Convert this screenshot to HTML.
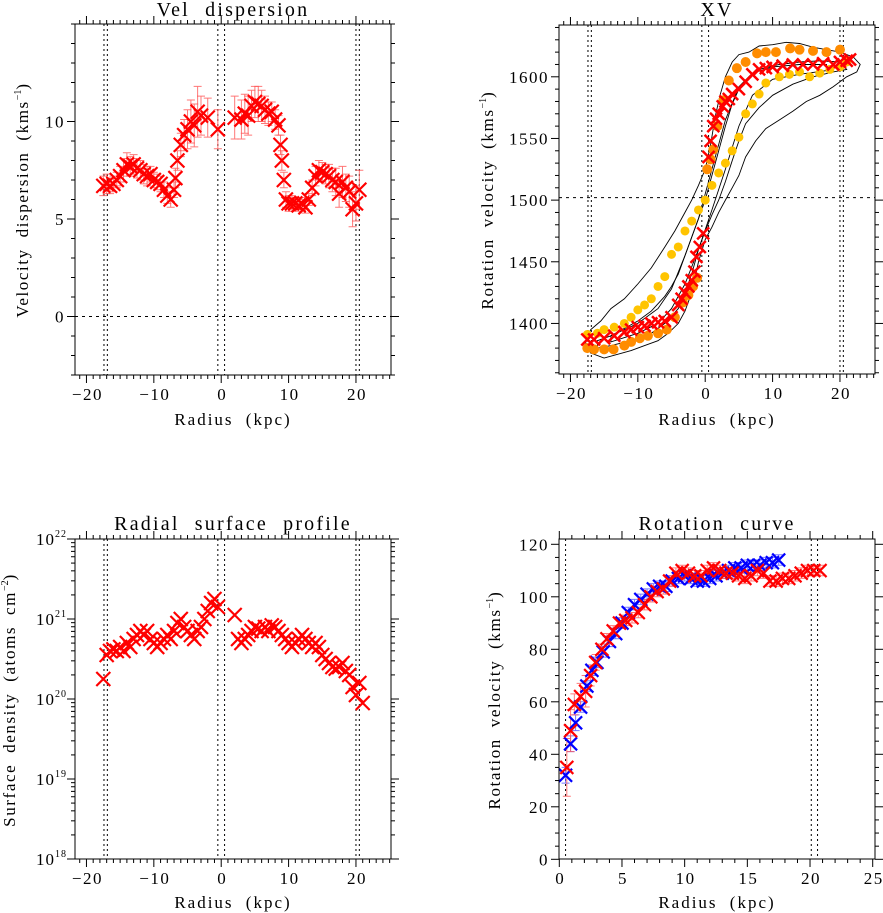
<!DOCTYPE html>
<html><head><meta charset="utf-8"><style>
body{margin:0;background:#fff;}
svg{display:block;font-family:"Liberation Serif",serif;}
</style></head><body>
<svg id="fig" width="883" height="913" viewBox="0 0 883 913" xmlns="http://www.w3.org/2000/svg"></svg>
<script>
// ---- Panel 1: velocity dispersion ----
const dispR = [-17.5,-17,-16.5,-16,-15.5,-15,-14.5,-14,-13.5,-13,-12.5,-12,-11.5,-11,-10.5,-10,-9.5,-9,-8.5,-8,-7.5,-7,-6.8,-6.5,-6,-5.5,-5,-4.5,-4,-3.5,-3,-2,-0.5,
  2,3,3.5,4,4.5,5,5.5,6,6.5,7,7.5,8,8.5,8.8,9,9.3,9.6,10,10.5,11,11.5,12,12.5,13,13.5,14,14.5,15,15.5,16,16.5,17,17.5,18,18.5,19,19.5,20,20.5];
const dispV = [6.7,6.8,6.7,6.8,7.0,7.2,7.5,7.8,7.7,7.8,7.6,7.5,7.3,7.2,7.3,7.0,6.9,6.8,6.5,6.2,6.0,6.5,7.1,8.0,8.8,9.3,9.6,10.0,9.8,10.5,10.3,10.2,9.6,
  10.2,10.1,10.4,10.3,10.8,11.0,10.9,10.8,10.6,10.4,10.5,10.1,9.8,8.8,8.0,7.0,6.0,5.8,5.8,5.8,5.7,5.8,5.6,6.0,6.6,7.2,7.5,7.4,7.3,7.2,7.0,6.9,6.3,6.9,6.6,6.4,5.5,5.8,6.5];
const dispErr = [0.5,0.5,0.4,0.4,0.4,0.5,0.6,0.6,0.5,0.5,0.5,0.5,0.5,0.5,0.4,0.4,0.4,0.4,0.4,0.4,0.4,0.4,0.5,0.5,0.6,0.8,1.0,1.1,1.1,1.3,1.0,1.0,1.0,
  1.1,1.0,1.0,1.0,0.8,0.8,0.9,0.8,0.7,0.6,0.5,0.5,0.5,0.5,0.5,0.4,0.4,0.4,0.4,0.3,0.3,0.3,0.3,0.3,0.4,0.5,0.5,0.5,0.5,0.6,0.6,0.7,0.7,0.8,0.7,0.8,0.9,0.9,1.0];
const dispYTicks = [0,5,10];
const dispXTicks = [-20,-10,0,10,20];

// ---- Panel 2: XV diagram ----
const xvRedR = [-17.5,-16.5,-15,-13.5,-12,-11,-10,-9,-8,-7,-6,-5,-4,-3.5,-3,-2.5,-2,-1.6,-1.3,-0.8,-0.3,0.5,0.8,1.2,1.6,2,2.6,3,3.5,4,5,6,7,8,9,10,11.5,13,14.5,16,17.5,19,20,21,21.5];
const xvRedV = [1387,1387,1388,1390,1393,1395,1397,1398,1400,1401,1402,1405,1415,1420,1425,1430,1435,1442,1454,1462,1473,1535,1548,1560,1566,1570,1576,1580,1582,1586,1590,1596,1602,1606,1607,1608,1609,1610,1610,1610,1611,1610,1612,1613,1614];
const xvOrangeR = [-17.5,-16.5,-15,-13.6,-12,-11,-9.7,-8.5,-7,-5.7,-4.5,-3.3,-2.5,-1.8,-1.2,0.3,0.8,1.2,1.8,2.7,3.5,4.7,6,7.7,9,10.5,12.6,14,16,18,20];
const xvOrangeV = [1380,1379,1379,1379,1382,1385,1388,1390,1392,1395,1405,1417,1423,1430,1437,1525,1533,1541,1560,1581,1597,1607,1612,1619,1620,1620,1623,1622,1621,1620,1622];
const xvYellowR = [-17.5,-16,-15,-13.5,-12,-11,-10,-9,-8,-7,-6,-5,-4,-3,-2,-1,0,1,2,3,4,5,6,7,8,9,11,12.5,14,15.5,17,18.5,20,21];
const xvYellowV = [1391,1392,1395,1397,1400,1405,1411,1415,1420,1430,1438,1456,1462,1475,1483,1492,1500,1512,1522,1530,1540,1551,1570,1578,1586,1595,1600,1602,1604,1600,1603,1606,1608,1612];
const contourOuterR = [-17.8,-17,-15.5,-14,-12,-10,-8,-6,-4.5,-3,-2,-1,0,0.8,1.5,2.2,3,4,5,6.5,8,10,12,14,16,18,20,22,23,22.5,21,19,17,15,13,11,9,7.5,6,5,4,3,2,1,0,-1,-2,-3,-4,-5.5,-7,-9,-11,-13,-15,-17];
const contourOuterV = [1385,1395,1402,1412,1420,1432,1445,1462,1475,1490,1500,1512,1525,1545,1568,1585,1600,1612,1618,1620,1625,1626,1628,1627,1624,1622,1620,1616,1610,1604,1600,1592,1585,1580,1572,1565,1558,1548,1535,1520,1510,1500,1490,1478,1468,1450,1425,1410,1400,1392,1386,1382,1378,1375,1372,1376];
const contourInnerR = [-16,-14,-12,-10,-8,-6,-5,-4,-3,-2,-1,0,1,2,3,4,5,6.5,8,11,14,17,20,21,19,16,13,10,8,6,5,4,3,2,1,0,-1,-2,-3,-4,-6,-8,-11,-14,-16];
const contourInnerV = [1386,1390,1396,1402,1410,1422,1430,1440,1455,1470,1485,1500,1520,1540,1560,1578,1590,1600,1606,1610,1612,1613,1612,1606,1604,1600,1594,1585,1575,1562,1548,1532,1515,1500,1488,1475,1460,1440,1425,1412,1400,1392,1386,1382,1380];
const contourCoreR = [-14,-10,-7,-5,-3,-1,1,3,5,7,10,14,18,18,14,10,7,5,3,1,-1,-3,-5,-7,-10,-14];
const contourCoreV = [1390,1400,1412,1428,1455,1485,1525,1565,1592,1603,1608,1610,1610,1605,1602,1598,1585,1560,1525,1492,1460,1432,1412,1400,1392,1385];
const xvYTicks = [1400,1450,1500,1550,1600];
const xvXTicks = [-20,-10,0,10,20];

// ---- Panel 3: surface density (log10) ----
const surfR = [-17.5,-17,-16.5,-16,-15.5,-15,-14.5,-14,-13.5,-13,-12.5,-12,-11.5,-11,-10.5,-10,-9.5,-9,-8.5,-8,-7.5,-7,-6.5,-6,-5.5,-5,-4.5,-4,-3.5,-3,-2.5,-2,-1.5,-1,-0.5,
  2,2.5,3,3.5,4,4.5,5,5.5,6,6.5,7,7.5,8,8.5,9,9.5,10,10.5,11,11.5,12,12.5,13,13.5,14,14.5,15,15.5,16,16.5,17,17.5,18,18.5,19,19.5,20,20.5,21];
const surfLog = [20.25,20.55,20.6,20.62,20.6,20.65,20.6,20.7,20.65,20.75,20.8,20.85,20.8,20.85,20.75,20.7,20.65,20.7,20.75,20.8,20.75,20.85,20.95,21.0,20.9,20.85,20.8,20.75,20.85,20.9,21.0,21.1,21.2,21.25,21.15,
  21.05,20.75,20.7,20.75,20.8,20.85,20.9,20.88,20.85,20.9,20.85,20.92,20.9,20.85,20.8,20.75,20.7,20.65,20.7,20.75,20.8,20.75,20.7,20.65,20.7,20.65,20.55,20.5,20.45,20.4,20.38,20.4,20.45,20.35,20.3,20.15,20.05,20.2,19.95];
const surfYTicks = [18,19,20,21,22];
const surfXTicks = [-20,-10,0,10,20];

// ---- Panel 4: rotation curve ----
const rcBlueR = [0.5,0.9,1.3,1.7,2.2,2.6,3,3.5,4,4.5,5,5.5,6,6.5,7,7.5,8,8.5,9,9.5,10,10.5,11,11.5,12,12.5,13,13.5,14,14.5,15,15.5,16,16.5,17,17.5];
const rcBlueV = [32,44,52,58,66,72,75,79,83,86,90,94,97,99,101,103,104,104,106,107,108,107,106,106,107,108,109,110,111,111,112,112,112,113,113,114];
const rcBlueErr = [3,3,3,2,2,2,2,2,2,2,2,2,2,2,2,2,2,2,2,2,2,2,2,2,2,2,2,2,2,2,2,2,2,2,2,2];
const rcRedR = [0.6,0.9,1.2,1.7,2.1,2.5,2.9,3.4,3.8,4.3,4.8,5.3,5.8,6.3,6.8,7.3,7.8,8.3,8.8,9.3,9.8,10.3,10.8,11.3,11.8,12.3,12.8,13.3,13.8,14.3,14.8,15.3,15.8,16.3,16.8,17.3,17.8,18.3,18.8,19.3,19.8,20.3,20.8];
const rcRedV = [35,49,59,62,64,70,75,80,84,87,90,91,92,94,97,100,102,103,106,109,110,109,108,108,110,111,110,109,109,108,107,108,110,109,106,106,107,107,108,109,110,110,110];
const rcRedErr = [11,8,4,5,6,4,3,2,2,2,2,2,2,2,2,2,2,2,2,2,2,2,2,2,2,2,2,2,2,2,2,2,2,2,2,2,2,2,2,2,2,2,2];
const rcYTicks = [0,20,40,60,80,100,120];
const rcXTicks = [0,5,10,15,20,25];

const NS = "http://www.w3.org/2000/svg";
const svg = document.getElementById('fig');
function mk(tag, attrs, parent) {
  const e = document.createElementNS(NS, tag);
  for (const k in attrs) e.setAttribute(k, attrs[k]);
  (parent || svg).appendChild(e);
  return e;
}
function scale(d0, d1, p0, p1) { return v => p0 + (v - d0) / (d1 - d0) * (p1 - p0); }

function frame(g, L, T, R, B) {
  const r = mk('rect', {x:L, y:T, width:R-L, height:B-T, fill:'none', stroke:'#000', 'stroke-width':1}, g);
  
  
}
function tick(g, x1, y1, x2, y2) { mk('line', {x1:x1, y1:y1, x2:x2, y2:y2, stroke:'#000', 'stroke-width':1}, g); }
function dottedV(g, x, T, B) {
  const l = mk('line', {x1:x, y1:T, x2:x, y2:B, stroke:'#000', 'stroke-width':1, 'stroke-dasharray':'2,3'}, g);
  
  
}
function dottedH(g, y, L, R) {
  const l = mk('line', {x1:L, y1:y, x2:R, y2:y, stroke:'#000', 'stroke-width':1, 'stroke-dasharray':'3,4'}, g);
  
  
}
function cross(g, x, y, s, col, w) {
  const p = mk('path', {d:`M${x-s},${y-s}L${x+s},${y+s}M${x-s},${y+s}L${x+s},${y-s}`, stroke:col, 'stroke-width':w, fill:'none'}, g);
  
  
}
function errbar(g, x, y1, y2, col) {
  mk('path', {d:`M${x},${y1}L${x},${y2}M${x-4},${y1}L${x+4},${y1}M${x-4},${y2}L${x+4},${y2}`, stroke:col, 'stroke-width':1, fill:'none', opacity:0.8}, g);
}
function text(g, x, y, s, size, anchor, name, ls, ws) {
  const t = mk('text', {x:x, y:y, 'font-size':size, 'text-anchor':anchor || 'middle', fill:'#000', 'letter-spacing':ls||0, 'word-spacing':ws||0}, g);
  t.textContent = s;
  
  
  return t;
}
function ytitle(g, x, y, main, sup, tail, name) {
  const t = mk('text', {x:0, y:0, 'font-size':17, 'text-anchor':'middle', 'letter-spacing':1.6, 'word-spacing':5, transform:`translate(${x},${y}) rotate(-90)`, fill:'#000'}, g);
  
  
  const a = mk('tspan', {}, t); a.textContent = main;
  const b = mk('tspan', {'font-size':10, dy:-7, 'letter-spacing':0}, t); b.textContent = sup;
  const c = mk('tspan', {dy:7}, t); c.textContent = tail;
}
function linearXAxis(g, sx, L, R, T, B, x0, x1, minorStep, ticks) {
  for (let v = Math.ceil(x0/minorStep)*minorStep; v <= x1; v += minorStep) {
    const x = sx(v);
    const major = ticks.some(t => Math.abs(t - v) < 1e-6);
    const len = major ? 8 : 4;
    tick(g, x, B, x, B+len); tick(g, x, T, x, T-len);
  }
  ticks.forEach(v => text(g, sx(v)+1, B+25, String(v).replace('-', '\u2212'), 17, 'middle', 'x-tick-label', 1.5));
}
function linearYAxis(g, sy, L, R, y0, y1, minorStep, ticks) {
  for (let v = Math.ceil(y0/minorStep)*minorStep; v <= y1 + 1e-9; v += minorStep) {
    const y = sy(v);
    const major = ticks.some(t => Math.abs(t - v) < 1e-6);
    const len = major ? 8 : 4;
    tick(g, R, y, R+len, y); tick(g, L, y, L-len, y);
  }
  ticks.forEach(v => text(g, L-10, sy(v)+6, String(v), 17, 'end', 'y-tick-label', 1.5));
}

// ===== Panel 1 =====
(function(){
  const g = mk('g', {});  
  const L=75, R=391, T=24, B=375;
  const sx = scale(-21.7, 25.2, L, R), sy = scale(-3, 15, B, T);
  text(g, 233, 16, 'Vel dispersion', 20, 'middle', 'chart-title', 2.2, 8);
  [-17.4,-16.9,-0.5,0.5,20,20.5].forEach(v => dottedV(g, sx(v), T, B));
  dottedH(g, sy(0), L, R);
  dispR.forEach((r,i) => errbar(g, sx(r), sy(dispV[i]-dispErr[i]), sy(dispV[i]+dispErr[i]), '#f55'));
  dispR.forEach((r,i) => cross(g, sx(r), sy(dispV[i]), 7, '#f00', 2.2));
  frame(g, L, T, R, B);
  linearXAxis(g, sx, L, R, T, B, -21.7, 25.2, 1, dispXTicks);
  linearYAxis(g, sy, L, R, -3, 15, 1, dispYTicks);
  text(g, 233, 425, 'Radius (kpc)', 17, 'middle', 'x-axis-title', 2, 6);
  ytitle(g, 28, 200, 'Velocity dispersion (kms', '\u22121', ')', 'y-axis-title');
})();

// ===== Panel 2 =====
(function(){
  const g = mk('g', {});  
  const L=559, R=875, T=25, B=374;
  const sx = scale(-21.7, 25.2, L, R), sy = scale(1359, 1642, B, T);
  text(g, 717, 16, 'XV', 20, 'middle', 'chart-title', 2.2);
  [[contourOuterR, contourOuterV],[contourInnerR, contourInnerV],[contourCoreR, contourCoreV]].forEach(([rs, vs]) => {
    const pts = rs.map((r,i) => sx(r).toFixed(1)+','+sy(vs[i]).toFixed(1)).join(' ');
    const p = mk('polygon', {points:pts, fill:'none', stroke:'#000', 'stroke-width':0.9}, g);
    
    
  });
  [-17.4,-16.9,-0.5,0.5,20,20.5].forEach(v => dottedV(g, sx(v), T, B));
  dottedH(g, sy(1502), L, R);
  xvYellowR.forEach((r,i) => { const c = mk('circle', {cx:sx(r), cy:sy(xvYellowV[i]), r:4.5, fill:'#ffc400'}, g);   });
  xvOrangeR.forEach((r,i) => { const c = mk('circle', {cx:sx(r), cy:sy(xvOrangeV[i]), r:5, fill:'#ff8c00'}, g);   });
  xvRedR.forEach((r,i) => cross(g, sx(r), sy(xvRedV[i]), 6, '#f00', 2.5));
  frame(g, L, T, R, B);
  linearXAxis(g, sx, L, R, T, B, -21.7, 25.2, 1, xvXTicks);
  linearYAxis(g, sy, L, R, 1359, 1642, 10, xvYTicks);
  text(g, 717, 425, 'Radius (kpc)', 17, 'middle', 'x-axis-title', 2, 6);
  ytitle(g, 493, 200, 'Rotation velocity (kms', '\u22121', ')', 'y-axis-title');
})();

// ===== Panel 3 =====
(function(){
  const g = mk('g', {});  
  const L=75, R=391, T=539, B=859;
  const sx = scale(-21.7, 25.2, L, R), sy = scale(18, 22, B, T);
  text(g, 233, 530, 'Radial surface profile', 20, 'middle', 'chart-title', 2.2, 8);
  [-17.4,-16.9,-0.5,0.5,20,20.5].forEach(v => dottedV(g, sx(v), T, B));
  surfR.forEach((r,i) => cross(g, sx(r), sy(surfLog[i]), 7, '#f00', 2.2));
  frame(g, L, T, R, B);
  linearXAxis(g, sx, L, R, T, B, -21.7, 25.2, 1, surfXTicks);
  for (let d = 18; d < 22; d++) {
    for (let m = 1; m < 10; m++) {
      const y = sy(d + Math.log10(m));
      const len = m === 1 ? 8 : 4;
      tick(g, R, y, R+len, y); tick(g, L, y, L-len, y);
    }
  }
  tick(g, R, sy(22), R+8, sy(22)); tick(g, L, sy(22), L-8, sy(22));
  surfYTicks.forEach(v => {
    const t = mk('text', {x:L-8, y:sy(v)+6, 'font-size':17, 'text-anchor':'end', 'letter-spacing':1}, g);
     
    const a = mk('tspan', {}, t); a.textContent = '10';
    const b = mk('tspan', {'font-size':10, dy:-8}, t); b.textContent = String(v);
  });
  text(g, 233, 908, 'Radius (kpc)', 17, 'middle', 'x-axis-title', 2, 6);
  ytitle(g, 15, 700, 'Surface density (atoms cm', '\u22122', ')', 'y-axis-title');
})();

// ===== Panel 4 =====
(function(){
  const g = mk('g', {});  
  const L=559, R=875, T=539, B=859;
  const sx = scale(0, 25, 559.3, 872.7), sy = scale(0, 120, 859.3, 544.3);
  text(g, 717, 530, 'Rotation curve', 20, 'middle', 'chart-title', 2.2, 8);
  [0.5,20.1,20.6].forEach(v => dottedV(g, sx(v), T, B));
  rcBlueR.forEach((r,i) => errbar(g, sx(r), sy(rcBlueV[i]-rcBlueErr[i]), sy(rcBlueV[i]+rcBlueErr[i]), '#55f'));
  rcRedR.forEach((r,i) => errbar(g, sx(r), sy(rcRedV[i]-rcRedErr[i]), sy(rcRedV[i]+rcRedErr[i]), '#f55'));
  rcBlueR.forEach((r,i) => cross(g, sx(r), sy(rcBlueV[i]), 6.5, '#00f', 2.2));
  rcRedR.forEach((r,i) => cross(g, sx(r), sy(rcRedV[i]), 6.5, '#f00', 2.2));
  frame(g, L, T, R, B);
  linearXAxis(g, sx, L, R, T, B, 0, 25, 1, rcXTicks);
  linearYAxis(g, sy, L, R, 0, 122, 5, rcYTicks);
  text(g, 717, 908, 'Radius (kpc)', 17, 'middle', 'x-axis-title', 2, 6);
  ytitle(g, 500, 700, 'Rotation velocity (kms', '\u22121', ')', 'y-axis-title');
})();
</script>
</body></html>
